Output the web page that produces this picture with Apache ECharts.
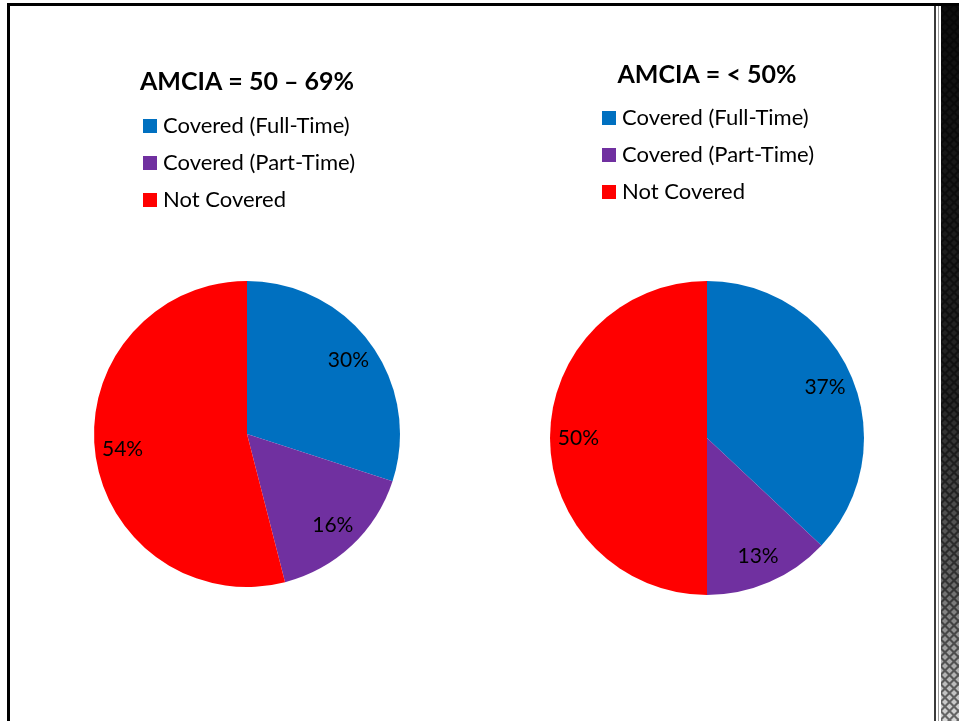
<!DOCTYPE html>
<html>
<head>
<meta charset="utf-8">
<script src="https://cdn.jsdelivr.net/npm/echarts@6/dist/echarts.min.js"></script>
<style>
html,body{margin:0;padding:0;background:#fff;}
#main{width:959px;height:721px;}
</style>
</head>
<body>
<div id="main"></div>
<script>
// ---- data ----
const categories = ['Covered (Full-Time)', 'Covered (Part-Time)', 'Not Covered'];
const titles = ['AMCIA = 50 \u2013 69%', 'AMCIA = < 50%'];
const valuesLeft = [30, 16, 54];
const valuesRight = [37, 13, 50];
const sliceColors = ['#0070C0', '#7030A0', '#FF0000'];

const FONT = 'Lato, "Open Sans", sans-serif';

function toData(vals) {
  return categories.map((name, i) => ({ name: name, value: vals[i] }));
}

// diamond pattern canvas for the side decoration
const pc = document.createElement('canvas');
pc.width = 9; pc.height = 9;
const g = pc.getContext('2d');
g.fillStyle = '#ffffff';
function diamond(cx, cy, r) {
  g.beginPath();
  g.moveTo(cx, cy - r); g.lineTo(cx + r, cy); g.lineTo(cx, cy + r); g.lineTo(cx - r, cy);
  g.closePath(); g.fill();
}
diamond(4.5, 4.5, 3); diamond(0, 0, 3); diamond(9, 0, 3); diamond(0, 9, 3); diamond(9, 9, 3);

const chart = echarts.init(document.getElementById('main'), null, { renderer: 'canvas' });

function pieSeries(vals, center, r) {
  return [{
    type: 'pie',
    center: center,
    radius: [0, r],
    startAngle: 90,
    clockwise: true,
    data: toData(vals),
    label: { show: false },
    labelLine: { show: false },
    itemStyle: { borderWidth: 0 },
    emphasis: { disabled: true },
    animation: false
  }, {
    type: 'pie',
    center: center,
    radius: [r * 0.6, r],
    startAngle: 90,
    clockwise: true,
    silent: true,
    data: toData(vals),
    itemStyle: { color: 'rgba(0,0,0,0)', borderWidth: 0 },
    label: {
      show: true,
      position: 'inside',
      formatter: p => Math.round(p.percent) + '%',
      color: '#000',
      fontSize: 21,
      fontFamily: FONT
    },
    labelLine: { show: false },
    emphasis: { disabled: true },
    animation: false
  }];
}

function legendAt(left, top) {
  return {
    orient: 'vertical',
    left: left,
    top: top,
    padding: 0,
    icon: 'rect',
    itemWidth: 14,
    itemHeight: 14,
    itemGap: 15,
    selectedMode: false,
    data: categories,
    textStyle: { fontSize: 22, fontFamily: FONT, color: '#000', padding: [0, 0, 0, 1] }
  };
}

chart.setOption({
  backgroundColor: '#ffffff',
  color: sliceColors,
  animation: false,
  title: [{
    text: titles[0], left: 247, top: 69, textAlign: 'center', padding: 0,
    textStyle: { fontSize: 25, fontWeight: 'bold', fontFamily: FONT, color: '#000' }
  }, {
    text: titles[1], left: 707, top: 62, textAlign: 'center', padding: 0,
    textStyle: { fontSize: 25, fontWeight: 'bold', fontFamily: FONT, color: '#000' }
  }],
  legend: [legendAt(143, 115), legendAt(602, 107)],
  series: [].concat(pieSeries(valuesLeft, [247, 434], 153), pieSeries(valuesRight, [707, 438], 157)),
  graphic: [
    { type: 'rect', z: 1, shape: { x: 941, y: 6, width: 18, height: 715 }, style: { fill: '#7a7a7a' }, silent: true },
    { type: 'rect', z: 2, shape: { x: 941, y: 6, width: 18, height: 715 }, style: { fill: { image: pc, repeat: 'repeat' } }, silent: true },
    { type: 'rect', z: 3, shape: { x: 941, y: 6, width: 18, height: 715 }, silent: true,
      style: { fill: new echarts.graphic.LinearGradient(0, 0, 0, 1, [
        { offset: 0, color: 'rgba(0,0,0,0.95)' },
        { offset: 0.55, color: 'rgba(0,0,0,0.85)' },
        { offset: 0.8, color: 'rgba(0,0,0,0.6)' },
        { offset: 1, color: 'rgba(0,0,0,0.15)' }
      ]) } },
    { type: 'rect', z: 4, shape: { x: 934, y: 6, width: 2, height: 715 }, style: { fill: '#3a3a3a' }, silent: true },
    { type: 'rect', z: 4, shape: { x: 938, y: 6, width: 1, height: 715 }, style: { fill: '#9a9a9a' }, silent: true },
    { type: 'rect', z: 5, shape: { x: 7, y: 3, width: 952, height: 3 }, style: { fill: '#000' }, silent: true },
    { type: 'rect', z: 5, shape: { x: 7, y: 3, width: 3, height: 718 }, style: { fill: '#000' }, silent: true }
  ]
});
</script>
</body>
</html>
